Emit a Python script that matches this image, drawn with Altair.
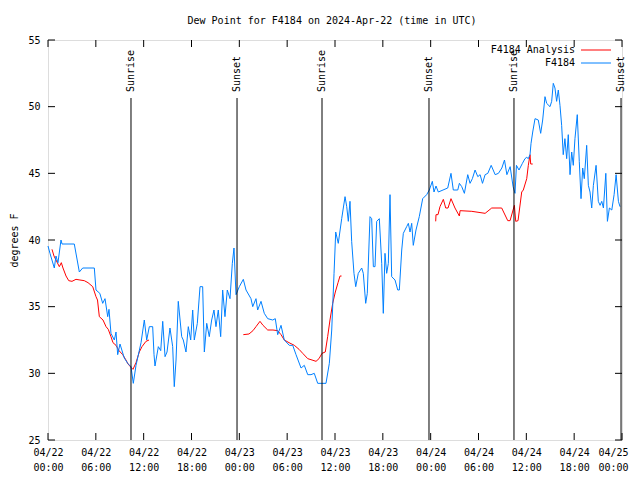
import altair as alt
import pandas as pd

# ---------------- data ----------------
# hours since 2024-04-22 00:00 UTC, dew point in degrees F
blue_hours = [0.0, 0.25, 0.79, 1.0, 1.25, 1.63, 1.76, 3.3, 3.93, 4.35, 5.81, 6.02, 6.5, 6.86, 7.15,
              7.49, 7.65, 7.9, 8.32, 8.53, 8.74, 9.03, 9.57, 10.0, 10.41, 10.7, 11.04, 11.67, 12.08,
              12.38, 12.71, 13.13, 13.3, 13.42, 13.84, 14.14, 14.39, 14.68, 14.93, 15.3, 15.64, 15.84,
              16.06, 16.34, 16.77, 16.97, 17.31, 17.6, 17.9, 18.15, 18.35, 18.73, 19.07, 19.4, 19.61,
              19.91, 20.23, 20.53, 20.82, 21.07, 21.36, 21.66, 21.91, 22.2, 22.49, 22.83, 23.12, 23.33,
              23.58, 24.0, 24.5, 24.84, 25.46, 25.68, 26.09, 26.3, 26.72, 27.13, 27.56, 28.19, 28.51,
              28.81, 29.23, 29.64, 30.27, 30.7, 31.11, 31.74, 32.15, 32.58, 32.99, 33.4, 33.83, 34.87,
              35.29, 35.59, 35.88, 36.09, 36.41, 36.84, 37.26, 37.47, 37.67, 37.88, 38.09, 38.38, 38.6,
              38.92, 39.35, 39.55, 39.85, 40.05, 40.39, 40.6, 40.81, 41.02, 41.23, 41.56, 41.86, 42.06,
              42.27, 42.48, 42.69, 42.9, 43.11, 43.53, 43.87, 44.07, 44.37, 44.57, 44.99, 45.2, 45.41,
              45.62, 45.82, 46.16, 46.57, 47.0, 47.5, 47.83, 48.21, 48.42, 48.67, 48.96, 49.55, 50.14,
              50.55, 50.84, 51.4, 51.6, 51.9, 52.23, 52.65, 52.94, 53.23, 53.57, 53.91, 54.2, 54.5,
              54.83, 55.17, 55.59, 56.09, 56.5, 56.93, 57.26, 57.56, 57.97, 58.34, 58.58, 58.76, 59.08,
              59.51, 59.83, 60.05, 60.25, 60.46, 60.59, 60.8, 61.09, 61.5, 61.8, 62.05, 62.34, 62.55,
              62.97, 63.18, 63.38, 63.59, 63.8, 64.01, 64.22, 64.43, 64.63, 64.84, 65.06, 65.26, 65.48,
              65.69, 65.89, 66.1, 66.39, 66.64, 66.86, 67.07, 67.27, 67.57, 67.78, 67.99, 68.2, 68.41,
              68.75, 69.03, 69.25, 69.46, 69.67, 69.97, 70.17, 70.42, 70.72, 71.01, 71.26, 71.55, 71.75]
blue_vals = [39.55, 39.0, 37.9, 38.8, 38.3, 40.0, 39.7, 39.7, 37.6, 37.9, 37.9, 36.25, 36.0, 35.25, 35.6,
             34.25, 34.8, 33.0, 32.5, 33.1, 31.4, 32.2, 31.15, 30.75, 30.5, 29.25, 30.6, 32.3, 34.0,
             32.5, 33.5, 33.5, 31.4, 30.55, 32.0, 31.7, 33.9, 31.25, 31.6, 33.4, 32.0, 29.0,
             31.0, 35.4, 32.75, 32.5, 31.6, 33.5, 32.5, 34.75, 32.5, 33.75, 36.5, 36.5, 31.6,
             33.75, 32.75, 34.0, 34.75, 33.5, 34.75, 32.75, 36.25, 34.25, 36.25, 35.6, 38.25, 39.4,
             35.9, 36.5, 37.05, 36.25, 35.6, 35.0, 35.6, 34.75, 35.4, 34.5, 34.1, 34.0, 34.1,
             32.9, 33.6, 32.5, 32.1, 32.1, 31.4, 30.4, 30.6, 29.9, 29.9, 30.0, 29.25, 29.25,
             30.75, 33.25, 37.5, 40.6, 39.75, 41.6, 43.25, 42.5, 41.4, 42.9, 39.9, 37.5, 36.5,
             37.5, 37.9, 37.5, 35.25, 36.0, 41.75, 41.6, 38.0, 38.0, 41.4, 41.6, 38.25, 34.5,
             39.0, 37.5, 38.25, 43.4, 37.25, 37.0, 36.25, 36.25, 39.25, 40.5, 41.0, 41.25, 40.6,
             41.25, 39.6, 40.75, 41.75, 43.1, 43.4, 43.75, 44.4, 43.6, 44.05, 43.6, 43.75, 43.9,
             45.0, 43.75, 43.75, 44.25, 44.0, 43.5, 44.9, 44.25, 44.6, 45.25, 44.75, 44.9, 44.25,
             44.9, 45.0, 45.6, 44.9, 45.0, 45.4, 46.0, 44.9, 45.5, 44.0, 43.5, 45.6, 45.25,
             45.75, 46.1, 46.2, 46.1, 46.4, 47.25, 48.1, 49.1, 49.0, 48.0, 49.0, 50.75, 50.25,
             50.0, 50.4, 51.75, 51.4, 50.4, 51.25, 50.1, 48.6, 46.4, 47.6, 46.1, 47.9, 44.9,
             46.6, 45.6, 47.6, 49.4, 45.9, 43.1, 45.4, 44.6, 47.1, 44.1, 43.6, 42.4, 44.1,
             45.6, 42.9, 42.6, 42.9, 42.4, 45.0, 41.4, 42.4, 42.25, 43.4, 44.9, 42.9, 42.5]

red_hours = [0.5, 0.75, 1.0, 1.42, 1.67, 1.88, 2.26, 2.6, 3.01, 3.51, 4.01, 4.55, 5.02, 5.61, 6.02,
             6.21, 6.44, 6.9, 7.28, 7.56, 7.9, 8.15, 8.53, 8.91, 9.37, 9.78, 10.04, 10.41, 10.66,
             11.04, 11.45, 11.79, 12.29, 12.67,
             24.5, 25.21, 25.71, 26.09, 26.59, 26.97, 27.56, 28.22, 28.81, 29.23, 29.64, 30.23,
             30.9, 31.49, 31.95, 32.58, 33.12, 33.62, 33.99, 34.37, 34.78, 35.08, 35.37, 35.71,
             36.04, 36.38, 36.63, 36.82,
             48.63, 48.67, 48.92, 49.17, 49.59, 49.89, 50.18, 50.55, 51.05, 51.6, 51.69, 53.16,
             54.83, 55.66, 56.91, 57.67, 57.96, 58.5, 58.67, 58.96, 59.42, 59.62, 60.05, 60.25,
             60.46, 60.55, 60.8]
red_vals = [39.3, 38.8, 38.5, 38.0, 38.3, 37.9, 37.3, 36.95, 36.9, 37.05, 37.0, 36.95, 36.8, 36.5, 35.75,
            35.5, 34.25, 34.0, 33.5, 33.3, 32.75, 32.3, 32.1, 31.7, 31.4, 31.0, 30.7, 30.45, 30.3,
            30.8, 31.6, 32.0, 32.4, 32.5,
            32.9, 32.95, 33.2, 33.5, 33.9, 33.6, 33.25, 33.25, 33.2, 32.9, 32.5, 32.3,
            32.1, 31.8, 31.5, 31.1, 31.0, 30.9, 31.1, 31.5, 31.6, 32.75, 34.0, 35.25,
            36.1, 36.8, 37.3, 37.3,
            41.4, 41.9, 41.9, 42.5, 43.05, 42.4, 42.4, 43.1, 42.4, 41.8, 42.2, 42.15,
            42.0, 42.4, 42.4, 41.45, 41.45, 42.6, 41.4, 41.45, 43.6, 43.75, 44.6, 45.6,
            46.4, 45.7, 45.7]
red_segment = [1] * 34 + [2] * 28 + [3] * 27

sun_hours = [10.41, 23.71, 34.37, 47.79, 58.45, 71.88]
sun_labels = ["Sunrise", "Sunset", "Sunrise", "Sunset", "Sunrise", "Sunset"]

x_tick_hours = [0, 6, 12, 18, 24, 30, 36, 42, 48, 54, 60, 66, 72]
x_tick_dates = ["04/22", "04/22", "04/22", "04/22", "04/23", "04/23", "04/23", "04/23",
                "04/24", "04/24", "04/24", "04/24", "04/25"]
x_tick_times = ["00:00", "06:00", "12:00", "18:00", "00:00", "06:00", "12:00", "18:00",
                "00:00", "06:00", "12:00", "18:00", "00:00"]
y_ticks = [25, 30, 35, 40, 45, 50, 55]

series_names = ["F4184 Analysis", "F4184"]
series_colors = ["#ff0000", "#0080ff"]

title_text = ["Dew Point for F4184 on 2024-Apr-22 (time in UTC)"]
y_title = "degrees F"

# ---------------- chart ----------------
FONT = "DejaVu Sans Mono"
W, H = 574, 400

blue_df = pd.DataFrame({"hour": blue_hours, "val": blue_vals})
red_df = pd.DataFrame({"hour": red_hours, "val": red_vals, "seg": red_segment})
sun_df = pd.DataFrame({"hour": sun_hours, "label": sun_labels})
xt_df = pd.DataFrame({"hour": x_tick_hours})
yt_df = pd.DataFrame({"val": y_ticks})
title_df = pd.DataFrame({"t": title_text})

labels_js = "[" + ",".join(f"['{d}','{t}']" for d, t in zip(x_tick_dates, x_tick_times)) + "]"
hours_js = "[" + ",".join(str(h) for h in x_tick_hours) + "]"

xscale = alt.Scale(domain=[0, 72], nice=False, zero=False)
yscale = alt.Scale(domain=[25, 55], nice=False, zero=False)

xenc = alt.X("hour:Q", scale=xscale,
             axis=alt.Axis(values=x_tick_hours, title=None, grid=False, domain=False,
                           tickSize=0, labelPadding=7, labelFont=FONT, labelFontSize=10,
                           labelColor="black", labelLineHeight=15, labelFlush=False,
                           labelOverlap=False, labelBound=False,
                           labelOffset={"condition": {"test": f"datum.value == {x_tick_hours[-1]}",
                                                      "value": -9}, "value": 0},
                           labelExpr=f"{labels_js}[indexof({hours_js}, datum.value)]"))
yenc = alt.Y("val:Q", scale=yscale,
             axis=alt.Axis(values=y_ticks, title=y_title, grid=False, domain=False,
                           tickSize=0, labelPadding=8, labelFont=FONT, labelFontSize=10,
                           labelColor="black", titleFont=FONT, titleFontSize=10,
                           titleFontWeight="normal", titleColor="black",
                           titleX=-34, titleY=H / 2, titleAngle=270,
                           titleAlign="center", titleBaseline="middle"))

red_line = alt.Chart(red_df).mark_line(strokeWidth=1, color=series_colors[0]).encode(
    x=xenc, y=yenc, detail="seg:N")
blue_line = alt.Chart(blue_df).mark_line(strokeWidth=1, color=series_colors[1]).encode(
    x="hour:Q", y="val:Q")

sun_rule = alt.Chart(sun_df).mark_rule(color="black", strokeWidth=1).encode(
    x="hour:Q", y=alt.value(58), y2=alt.value(H))
sun_text = alt.Chart(sun_df).mark_text(angle=270, align="left", baseline="middle",
                                       font=FONT, fontSize=10, color="black").encode(
    x="hour:Q", y=alt.value(52), text="label:N")

tick_l = alt.Chart(yt_df).mark_rule(color="black").encode(y="val:Q", x=alt.value(0), x2=alt.value(7))
tick_r = alt.Chart(yt_df).mark_rule(color="black").encode(y="val:Q", x=alt.value(W - 7), x2=alt.value(W))
tick_b = alt.Chart(xt_df).mark_rule(color="black").encode(x="hour:Q", y=alt.value(H - 7), y2=alt.value(H))
tick_t = alt.Chart(xt_df).mark_rule(color="black").encode(x="hour:Q", y=alt.value(0), y2=alt.value(7))

title_mark = alt.Chart(title_df).mark_text(align="center", baseline="alphabetic", font=FONT,
                                           fontSize=10, color="black").encode(
    text="t:N", x=alt.value(W / 2 - 3), y=alt.value(-16))

leg_layers = []
for i, (name, col) in enumerate(zip(series_names, series_colors)):
    ldf = pd.DataFrame({"name": [name]})
    ry = 10 + 13 * i
    leg_layers.append(alt.Chart(ldf).mark_text(align="right", baseline="middle", font=FONT,
                                               fontSize=10, color="black").encode(
        text="name:N", x=alt.value(527), y=alt.value(ry)))
    leg_layers.append(alt.Chart(ldf).mark_rule(color=col, strokeWidth=1).encode(
        x=alt.value(533), x2=alt.value(563), y=alt.value(ry)))

chart = alt.layer(red_line, blue_line, sun_rule, sun_text, tick_l, tick_r, tick_b, tick_t,
                  title_mark, *leg_layers).properties(
    width=W, height=H,
    padding={"left": 40, "top": 32, "right": 10, "bottom": 32},
    autosize=alt.AutoSizeParams(type="none"),
).configure_view(stroke="black", strokeWidth=1).configure(background="white")

chart.save("out.html", embed_options={"renderer": "svg", "actions": False})
